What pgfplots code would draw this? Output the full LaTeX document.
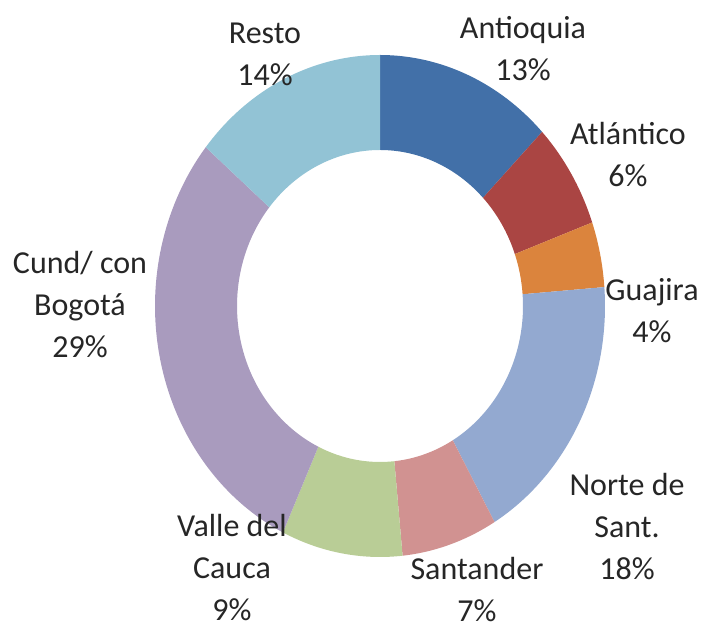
\documentclass[border=0pt]{standalone}
\usepackage{pgfplots}
\pgfplotsset{compat=1.18}
\usepackage{fontspec}
\setmainfont{Carlito}
\definecolor{cA}{HTML}{4270A8}
\definecolor{cB}{HTML}{AA4543}
\definecolor{cC}{HTML}{DB843D}
\definecolor{cD}{HTML}{93A9D0}
\definecolor{cE}{HTML}{D19291}
\definecolor{cF}{HTML}{B9CD96}
\definecolor{cG}{HTML}{A99BBE}
\definecolor{cH}{HTML}{92C3D5}
\begin{document}
\begin{tikzpicture}
\begin{axis}[width=715bp,height=629bp,scale only axis,
  xmin=0,xmax=715,ymin=0,ymax=629,hide axis,clip=false]
\xdef\cum{90}
\foreach \v/\col in {12.8/cA,6.8/cB,4.2/cC,17.7/cD,6.9/cE,8.7/cF,28.8/cG,14.1/cH}{
  \pgfmathsetmacro\s{\cum}
  \pgfmathsetmacro\e{\cum-3.6*\v}
  \edef\temp{\noexpand\fill[\col] ([shift={(\s:225bp and 251bp)}]axis cs:380,323)
    arc[start angle=\s, end angle=\e, x radius=225bp, y radius=251bp]
    -- ([shift={(\e:143bp and 156bp)}]axis cs:380,323)
    arc[start angle=\e, end angle=\s, x radius=143bp, y radius=156bp] -- cycle;}
  \temp
  \xdef\cum{\e}
}
\begin{scope}[every node/.style={align=center,font=\fontsize{32bp}{42bp}\selectfont,text=black!85}]
\node at (axis cs:265,575) {Resto\\14\%};
\node at (axis cs:523,580) {Antioquia\\13\%};
\node at (axis cs:628,474) {Atlántico\\6\%};
\node at (axis cs:652,318) {Guajira\\4\%};
\node at (axis cs:627,102) {Norte de\\Sant.\\18\%};
\node at (axis cs:477,39) {Santander\\7\%};
\node at (axis cs:232,61) {Valle del\\Cauca\\9\%};
\node at (axis cs:80,324) {Cund/ con\\Bogotá\\29\%};
\end{scope}
\end{axis}
\pgfresetboundingbox
\path (current axis.south west) rectangle (current axis.north east);
\end{tikzpicture}
\end{document}
